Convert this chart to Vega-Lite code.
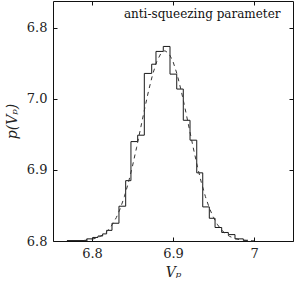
{
  "$schema": "https://vega.github.io/schema/vega-lite/v6.json",
  "autosize": "none",
  "width": 240,
  "height": 240,
  "padding": {"left": 53, "top": 1, "right": 1, "bottom": 41},
  "background": "white",
  "title": {
    "text": "anti-squeezing parameter",
    "anchor": "end",
    "orient": "top",
    "offset": -20,
    "dx": -13,
    "font": "DejaVu Serif",
    "fontSize": 12,
    "fontWeight": "normal",
    "color": "#111"
  },
  "datasets": {
    "hist": [
      {"v": 6.7691, "p": 0.006},
      {"v": 6.7935, "p": 0.03},
      {"v": 6.8012, "p": 0.05},
      {"v": 6.8074, "p": 0.07},
      {"v": 6.8132, "p": 0.1},
      {"v": 6.8181, "p": 0.15},
      {"v": 6.8247, "p": 0.25},
      {"v": 6.8333, "p": 0.49},
      {"v": 6.8416, "p": 0.85},
      {"v": 6.8481, "p": 1.40},
      {"v": 6.8564, "p": 1.49},
      {"v": 6.8646, "p": 2.36},
      {"v": 6.8737, "p": 2.49},
      {"v": 6.8790, "p": 2.67},
      {"v": 6.8880, "p": 2.74},
      {"v": 6.8963, "p": 2.35},
      {"v": 6.9046, "p": 2.14},
      {"v": 6.9127, "p": 1.70},
      {"v": 6.9210, "p": 1.42},
      {"v": 6.9293, "p": 0.96},
      {"v": 6.9367, "p": 0.48},
      {"v": 6.9448, "p": 0.32},
      {"v": 6.9519, "p": 0.19},
      {"v": 6.9601, "p": 0.12},
      {"v": 6.9683, "p": 0.09},
      {"v": 6.9765, "p": 0.03},
      {"v": 6.9868, "p": 0.01},
      {"v": 6.9926, "p": 0.01}
    ],
    "fit": [
      {"v": 6.790, "p": 0.0079},
      {"v": 6.795, "p": 0.014},
      {"v": 6.800, "p": 0.024},
      {"v": 6.805, "p": 0.040},
      {"v": 6.810, "p": 0.0645},
      {"v": 6.815, "p": 0.101},
      {"v": 6.820, "p": 0.154},
      {"v": 6.825, "p": 0.229},
      {"v": 6.830, "p": 0.329},
      {"v": 6.835, "p": 0.460},
      {"v": 6.840, "p": 0.625},
      {"v": 6.845, "p": 0.824},
      {"v": 6.850, "p": 1.055},
      {"v": 6.855, "p": 1.313},
      {"v": 6.860, "p": 1.587},
      {"v": 6.865, "p": 1.862},
      {"v": 6.870, "p": 2.123},
      {"v": 6.875, "p": 2.351},
      {"v": 6.880, "p": 2.528},
      {"v": 6.885, "p": 2.641},
      {"v": 6.890, "p": 2.680},
      {"v": 6.895, "p": 2.641},
      {"v": 6.900, "p": 2.528},
      {"v": 6.905, "p": 2.351},
      {"v": 6.910, "p": 2.123},
      {"v": 6.915, "p": 1.862},
      {"v": 6.920, "p": 1.587},
      {"v": 6.925, "p": 1.313},
      {"v": 6.930, "p": 1.055},
      {"v": 6.935, "p": 0.824},
      {"v": 6.940, "p": 0.625},
      {"v": 6.945, "p": 0.460},
      {"v": 6.950, "p": 0.329},
      {"v": 6.955, "p": 0.229},
      {"v": 6.960, "p": 0.154},
      {"v": 6.965, "p": 0.101},
      {"v": 6.970, "p": 0.0645},
      {"v": 6.975, "p": 0.040},
      {"v": 6.980, "p": 0.024},
      {"v": 6.985, "p": 0.014},
      {"v": 6.990, "p": 0.0079},
      {"v": 6.995, "p": 0.0044},
      {"v": 7.000, "p": 0.0023}
    ]
  },
  "layer": [
    {
      "data": {"name": "hist"},
      "mark": {"type": "line", "interpolate": "step-after", "color": "#1a1a1a", "strokeWidth": 1},
      "encoding": {
        "x": {
          "field": "v", "type": "quantitative",
          "scale": {"domain": [6.7519, 7.0481], "nice": false, "zero": false},
          "axis": {
            "orient": "bottom",
            "values": [6.8, 6.9, 7.0],
            "labelExpr": "datum.value == 7 ? '7' : format(datum.value, '.1f')",
            "title": "Vₚ",
            "titleFontStyle": "italic",
            "titlePadding": 5
          }
        },
        "y": {
          "field": "p", "type": "quantitative",
          "scale": {"domain": [0, 3.38], "nice": false, "zero": false},
          "axis": {
            "orient": "left",
            "values": [0, 1, 2, 3],
            "labelExpr": "['6.8','6.9','7.0','6.8'][datum.value]",
            "title": "p(Vₚ)",
            "titleFontStyle": "italic",
            "titlePadding": 7
          }
        }
      }
    },
    {
      "data": {"name": "fit"},
      "mark": {"type": "line", "color": "#333", "strokeWidth": 1, "strokeDash": [4, 4]},
      "encoding": {
        "x": {
          "field": "v", "type": "quantitative",
          "axis": {"orient": "top", "values": [6.8, 6.9, 7.0], "labels": false, "title": null}
        },
        "y": {
          "field": "p", "type": "quantitative",
          "axis": {"orient": "right", "values": [0, 1, 2, 3], "labels": false, "title": null}
        }
      }
    }
  ],
  "resolve": {"axis": {"x": "independent", "y": "independent"}},
  "config": {
    "view": {"stroke": "#111", "strokeWidth": 1},
    "axis": {
      "domain": false,
      "grid": false,
      "ticks": true,
      "tickSize": -4,
      "tickColor": "#111",
      "labelPadding": 10,
      "labelFont": "DejaVu Serif",
      "labelFontSize": 13,
      "labelColor": "#222",
      "titleFont": "DejaVu Serif",
      "titleFontSize": 14,
      "titleFontWeight": "normal",
      "titleColor": "#222"
    }
  }
}
